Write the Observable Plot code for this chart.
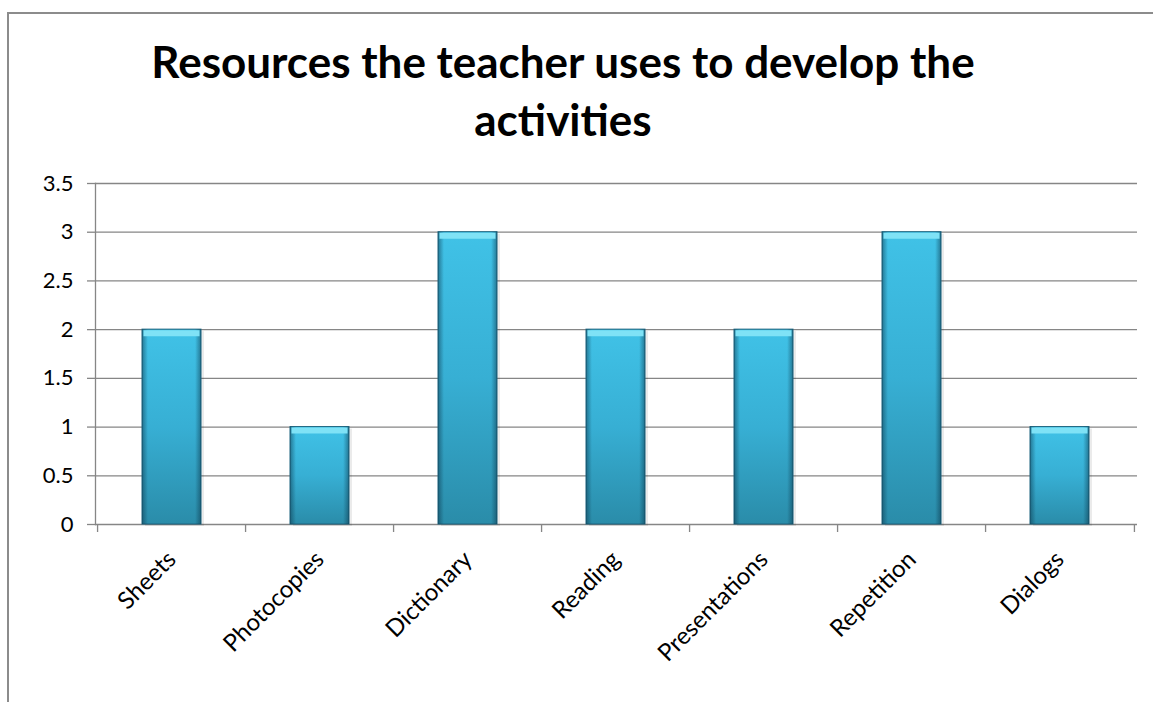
<!DOCTYPE html>
<html><head><meta charset="utf-8">
<script src="https://cdn.jsdelivr.net/npm/d3@7"></script>
<script src="https://cdn.jsdelivr.net/npm/@observablehq/plot@0.6"></script>
<style>
body{margin:0;background:#fff;}
#wrap{position:relative;width:1153px;height:702px;overflow:hidden;}
#frame{position:absolute;left:7px;top:12px;right:-5px;bottom:-5px;border-left:2px solid #8c8c8c;border-top:2px solid #8c8c8c;}
#title{position:absolute;left:0;top:32px;width:1126px;text-align:center;font-family:Lato,sans-serif;font-weight:bold;font-size:44px;line-height:58px;color:#000;}
#chart{position:absolute;left:0;top:150px;}
</style></head>
<body>
<div id="wrap">
<div id="frame"></div>
<div id="title">Resources the teacher uses to develop the<br>activities</div>
<div id="chart"></div>
</div>
<script>
const categories = ["Sheets","Photocopies","Dictionary","Reading","Presentations","Repetition","Dialogs"];
const values = [2, 1, 3, 2, 2, 3, 1];
const yTicks = [0, 0.5, 1, 1.5, 2, 2.5, 3, 3.5];
const data = categories.map((c, i) => ({category: c, value: values[i]}));

const W = 1153, H = 552, mL = 95, mR = 16, mT = 33, mB = 178;
const step = (W - mL - mR) / categories.length;
const gray = "#868686";

const svg = Plot.plot({
  width: W, height: H,
  marginLeft: mL, marginRight: mR, marginTop: mT, marginBottom: mB,
  style: {fontFamily: "Lato, sans-serif", fontSize: "22px", color: "#000", background: "transparent", overflow: "visible"},
  x: {domain: categories, paddingInner: 0.6, paddingOuter: 0.3, label: null},
  y: {domain: [0, 3.5], label: null},
  marks: [
    Plot.gridY(yTicks, {stroke: gray, strokeOpacity: 1, strokeWidth: 1.3}),
    Plot.frame({anchor: "left", stroke: gray, strokeWidth: 1.3}),
    Plot.axisY(yTicks, {tickSize: 8, tickPadding: 14, stroke: gray, strokeWidth: 1.3, fill: "#000", tickFormat: d => String(d), fontSize: 22}),
    Plot.axisX({tickSize: 8, dx: -step / 2, stroke: gray, strokeWidth: 1.3, tickFormat: () => ""}),
    Plot.axisX([categories[categories.length - 1]], {tickSize: 8, dx: step / 2, stroke: gray, strokeWidth: 1.3, tickFormat: () => ""}),
    Plot.axisX({tickSize: 0, tickPadding: 31, tickRotate: -45, fill: "#000", fontSize: 24}),
    Plot.barY(data, {x: "category", y: "value", fill: "#000", fillOpacity: 0.08, dx: 3, dy: 2}),
    Plot.barY(data, {x: "category", y: "value", fill: "url(#barV)", stroke: "#1d6580", strokeWidth: 1}),
    Plot.barY(data, {x: "category", y: "value", fill: "url(#barH)"}),
    Plot.tickY(data, {x: "category", y: "value", stroke: "#7fe2f6", strokeWidth: 6, dy: 3.5, insetLeft: 1.5, insetRight: 1.5})
  ]
});

const defs = d3.create("svg:defs");
const gv = defs.append("linearGradient").attr("id", "barV").attr("x1", 0).attr("x2", 0).attr("y1", 0).attr("y2", 1);
gv.append("stop").attr("offset", "0").attr("stop-color", "#40c2e7");
gv.append("stop").attr("offset", "0.5").attr("stop-color", "#37afd4");
gv.append("stop").attr("offset", "1").attr("stop-color", "#2a8ca9");
const gh = defs.append("linearGradient").attr("id", "barH").attr("x1", 0).attr("x2", 1).attr("y1", 0).attr("y2", 0);
gh.append("stop").attr("offset", "0").attr("stop-color", "#0a3246").attr("stop-opacity", 0.5);
gh.append("stop").attr("offset", "0.1").attr("stop-color", "#0a3246").attr("stop-opacity", 0);
gh.append("stop").attr("offset", "0.9").attr("stop-color", "#0a3246").attr("stop-opacity", 0);
gh.append("stop").attr("offset", "1").attr("stop-color", "#0a3246").attr("stop-opacity", 0.5);
svg.insertBefore(defs.node(), svg.firstChild);

document.getElementById("chart").appendChild(svg);
</script>
</body></html>
